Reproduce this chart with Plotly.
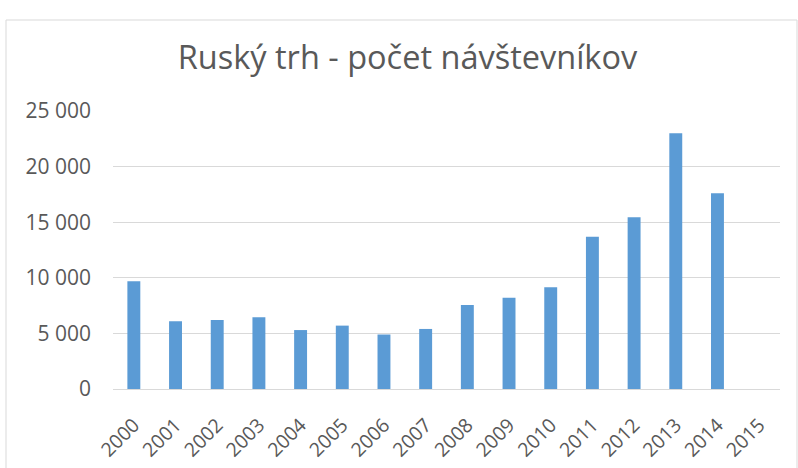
import plotly.graph_objects as go

years = [str(y) for y in range(2000, 2016)]
visitors = [9700, 6100, 6200, 6450, 5300, 5700, 4900, 5400, 7550, 8200, 9150,
            13700, 15450, 23000, 17600, None]
title_text = "Ruský trh - počet návštevníkov"

fig = go.Figure(go.Bar(
    x=years, y=visitors, marker=dict(color="#5B9BD5", line=dict(width=0)),
    width=0.31,
))

L, R, T, B = 113, 18, 111, 79
W, H = 798, 468
pw = W - L - R
ph = H - T - B

def px_x(p):
    return (p - L) / pw

def px_y(p):
    return (H - B - p) / ph

fig.update_layout(
    width=W, height=H,
    margin=dict(l=L, r=R, t=T, b=B, autoexpand=False),
    paper_bgcolor="white", plot_bgcolor="white",
    separators=", ",
    showlegend=False,
    title=dict(text=title_text, x=407.5 / W, xref="container", xanchor="center",
               y=1 - 58 / H, yref="container", yanchor="middle",
               font=dict(family="Open Sans", size=32.5, color="#595959")),
    font=dict(family="Open Sans", color="#595959"),
    xaxis=dict(type="category", tickangle=-45, tickfont=dict(size=19.5, color="#595959"),
               showgrid=False, showline=True, linecolor="#D9D9D9", linewidth=1,
               ticks="", zeroline=False, automargin=False, ticklabelstandoff=16),
    yaxis=dict(range=[0, 25000], dtick=5000, tickformat=",d",
               tickfont=dict(size=21, color="#595959"),
               showgrid=True, gridcolor="#D9D9D9", gridwidth=1,
               zeroline=False, showline=False, ticks="", ticklabelstandoff=21,
               automargin=False),
    shapes=[dict(type="rect", xref="paper", yref="paper",
                 x0=px_x(6), x1=px_x(797),
                 y0=px_y(480), y1=px_y(20),
                 line=dict(color="#D9D9D9", width=1), fillcolor="rgba(0,0,0,0)",
                 layer="below")],
)

fig.write_html("out.html", config={"displayModeBar": False},
               post_script="document.body.style.margin='0';")
